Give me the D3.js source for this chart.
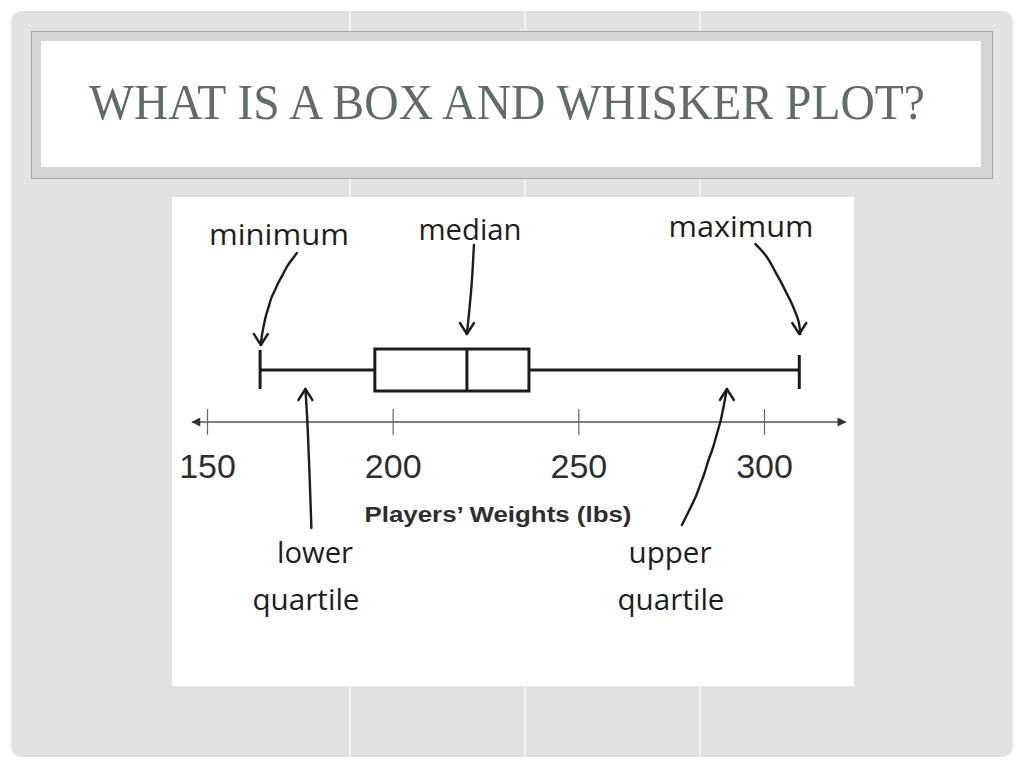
<!DOCTYPE html>
<html>
<head>
<meta charset="utf-8">
<script src="https://cdn.jsdelivr.net/npm/d3@7"></script>
<style>
  body { margin: 0; background: #fff; }
</style>
</head>
<body>
<script>
"use strict";

// five number summary
const summaryKeys = ["min", "q1", "median", "q3", "max"]
const summaryValues = [164.3, 195.2, 220, 236.7, 309.5]

const tickValues = [150, 200, 250, 300]
const axisExtent = [146, 322]
const axisTitle = "Players\u2019 Weights (lbs)"
const slideTitle = "WHAT IS A BOX AND WHISKER PLOT?"

// handwritten notes: anchor value on the weight axis, label lines
const noteNames = ["minimum", "median", "maximum", "lower quartile", "upper quartile"]
const noteAnchors = [164.5, 220, 309.5, 176.5, 290]

const stats = {}
summaryKeys.forEach((k, i) => stats[k] = summaryValues[i])

const measurements = {
    width: 1024,
    height: 768
}

const svg = d3.select("body").append("svg")
    .attr("width", measurements.width)
    .attr("height", measurements.height)

// slide background
svg.append("rect")
    .attr("x", 11).attr("y", 11)
    .attr("width", 1002).attr("height", 746)
    .attr("rx", 11)
    .attr("fill", "#e2e2e2")

// faint white column lines in the slide texture
svg.selectAll(".col")
    .data([350, 525, 700])
    .enter().append("line")
    .attr("x1", d => d).attr("x2", d => d)
    .attr("y1", 11).attr("y2", 757)
    .attr("stroke", "#f7f7f7")
    .attr("stroke-width", 1.5)

// title frame
svg.append("rect")
    .attr("x", 31.5).attr("y", 31.5)
    .attr("width", 961).attr("height", 147)
    .attr("fill", "#d5d5d5")
    .attr("stroke", "#a6a6a6")
svg.append("rect")
    .attr("x", 41).attr("y", 41)
    .attr("width", 940).attr("height", 126)
    .attr("fill", "#fff")
svg.append("text")
    .attr("x", 507).attr("y", 119)
    .attr("text-anchor", "middle")
    .attr("font-family", "'Liberation Serif', 'DejaVu Serif', serif")
    .attr("font-size", 50)
    .attr("fill", "#5e6e66")
    .attr("textLength", 836)
    .attr("lengthAdjust", "spacingAndGlyphs")
    .text(slideTitle)

// picture area
svg.append("rect")
    .attr("x", 172).attr("y", 197)
    .attr("width", 682).attr("height", 489)
    .attr("fill", "#fff")

const scaleX = d3.scaleLinear()
    .domain([150, 300])
    .range([207, 764])

const axisY = 422
const boxY = 370
const boxHalf = 21

// number line with arrows on both ends
svg.append("defs").append("marker")
    .attr("id", "tri")
    .attr("viewBox", "0 0 10 10")
    .attr("refX", 9).attr("refY", 5)
    .attr("markerWidth", 11).attr("markerHeight", 9)
    .attr("markerUnits", "userSpaceOnUse")
    .attr("orient", "auto-start-reverse")
    .append("path")
    .attr("d", "M0,0L10,5L0,10Z")
    .attr("fill", "#333")

svg.append("line")
    .attr("x1", scaleX(axisExtent[0])).attr("x2", scaleX(axisExtent[1]))
    .attr("y1", axisY).attr("y2", axisY)
    .attr("stroke", "#555")
    .attr("stroke-width", 1.4)
    .attr("marker-start", "url(#tri)")
    .attr("marker-end", "url(#tri)")

const xAxis = d3.axisBottom(scaleX)
    .tickValues(tickValues)
    .tickSize(0)
    .tickPadding(0)
    .tickFormat(d3.format("d"))

const axisG = svg.append("g")
    .attr("transform", "translate(0," + axisY + ")")
    .call(xAxis)
axisG.select(".domain").remove()
axisG.selectAll(".tick line")
    .attr("y1", -13).attr("y2", 13)
    .attr("stroke", "#666")
    .attr("stroke-width", 1.2)
axisG.selectAll(".tick text")
    .attr("y", 56)
    .attr("dy", 0)
    .attr("font-family", "'Liberation Sans', Arial, sans-serif")
    .attr("font-size", 34)
    .attr("fill", "#2e2e2e")

svg.append("text")
    .attr("x", 498).attr("y", 522)
    .attr("text-anchor", "middle")
    .attr("font-family", "'Liberation Sans', Arial, sans-serif")
    .attr("font-weight", "bold")
    .attr("font-size", 22)
    .attr("fill", "#2e2e2e")
    .attr("textLength", 267)
    .attr("lengthAdjust", "spacingAndGlyphs")
    .text(axisTitle)

// box and whiskers
const ink = "#1c1c1c"
const plot = svg.append("g")
    .attr("stroke", ink)
    .attr("stroke-width", 3)
    .attr("fill", "none")

plot.selectAll(".whisker")
    .data([[stats.min, stats.q1], [stats.q3, stats.max]])
    .enter().append("line")
    .attr("x1", d => scaleX(d[0])).attr("x2", d => scaleX(d[1]))
    .attr("y1", boxY).attr("y2", boxY)

plot.selectAll(".cap")
    .data([stats.min, stats.max])
    .enter().append("line")
    .attr("x1", d => scaleX(d)).attr("x2", d => scaleX(d))
    .attr("y1", (d, i) => i == 0 ? boxY - 20 : boxY - 15)
    .attr("y2", boxY + 19)

plot.append("rect")
    .attr("x", scaleX(stats.q1))
    .attr("y", boxY - boxHalf)
    .attr("width", scaleX(stats.q3) - scaleX(stats.q1))
    .attr("height", boxHalf * 2)
    .attr("fill", "#fff")

plot.append("line")
    .attr("x1", scaleX(stats.median)).attr("x2", scaleX(stats.median))
    .attr("y1", boxY - boxHalf).attr("y2", boxY + boxHalf)

// hand drawn arrows, points are pixel offsets from the anchor (tip last)
const arrowShapes = [
    { tipY: 345, up: false, pts: [[36, -92], [30, -84], [25, -77], [22, -70], [17, -62], [14, -54], [10, -47], [8, -38], [5, -30], [3, -20], [1, -10], [0, 0]] },
    { tipY: 334, up: false, pts: [[7, -89], [5, -50], [2, -20], [0, 0]] },
    { tipY: 334, up: false, pts: [[-44, -90], [-34, -80], [-28, -70], [-24, -62], [-18, -52], [-14, -43], [-8, -32], [-4, -22], [0, -12], [1, 0]] },
    { tipY: 389, up: true, pts: [[6, 139], [4, 80], [2, 30], [0, 0]] },
    { tipY: 389, up: true, pts: [[-45, 136], [-38, 122], [-30, 106], [-27, 96], [-22, 84], [-19, 72], [-14, 60], [-11, 48], [-6, 32], [-3, 16], [0, 0]] }
]

const line = d3.line().curve(d3.curveBasis)
const notes = svg.append("g")
    .attr("stroke", ink)
    .attr("stroke-width", 2.4)
    .attr("fill", "none")
    .attr("stroke-linecap", "round")
    .attr("stroke-linejoin", "round")

arrowShapes.forEach((a, i) => {
    const tx = scaleX(noteAnchors[i])
    const pts = a.pts.map(p => [tx + p[0], a.tipY + p[1]])
    notes.append("path").attr("d", line(pts))
    const h = a.up ? 11 : -11
    notes.append("path")
        .attr("d", d3.line()([[tx - 7, a.tipY + h], [tx, a.tipY], [tx + 7, a.tipY + h]]))
})

// handwritten labels
const labelSpots = [
    [{ x: 279, y: 245, w: 140 }],
    [{ x: 470, y: 240, w: 103 }],
    [{ x: 741, y: 237, w: 145 }],
    [{ x: 315, y: 563, w: 76 }, { x: 306, y: 610, w: 107 }],
    [{ x: 670, y: 563, w: 83 }, { x: 671, y: 610, w: 107 }]
]

noteNames.forEach((name, i) => {
    const words = name.split(" ")
    words.forEach((w, j) => {
        const s = labelSpots[i][j]
        svg.append("text")
            .attr("x", s.x).attr("y", s.y)
            .attr("text-anchor", "middle")
            .attr("font-family", "'Open Sans', 'DejaVu Sans', sans-serif")
            .attr("font-size", 29)
            .attr("fill", "#1e1e1e")
            .attr("textLength", s.w)
            .attr("lengthAdjust", "spacingAndGlyphs")
            .text(w)
    })
})
</script>
</body>
</html>
